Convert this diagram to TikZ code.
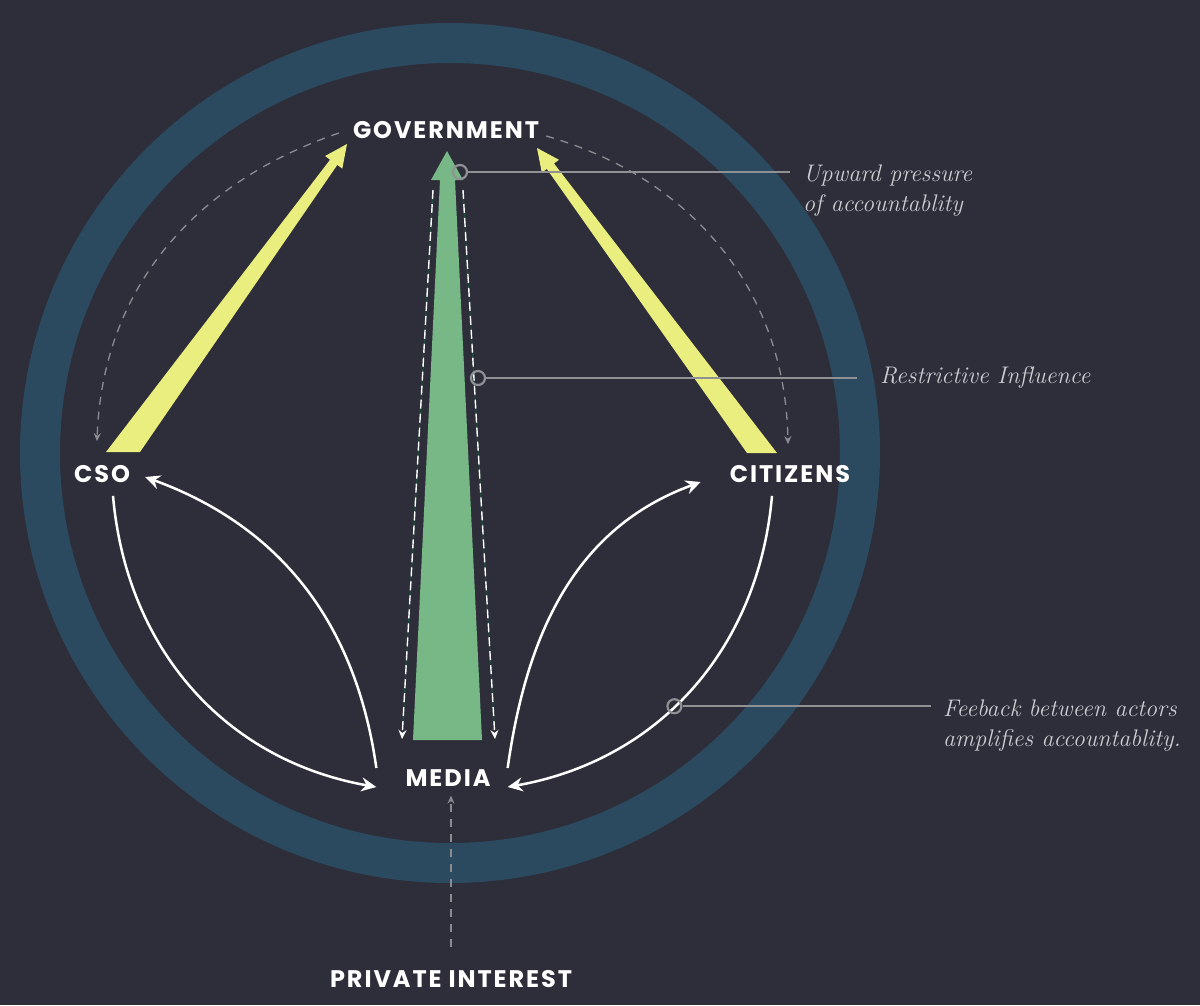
\documentclass[tikz,border=0pt]{standalone}
\usepackage{fontspec}
\usetikzlibrary{arrows.meta,calc}
\newfontfamily\lblfont{Poppins}[LetterSpace=8]
\definecolor{bgc}{HTML}{2D2E39}
\definecolor{ringc}{HTML}{2B4A5F}
\definecolor{yel}{HTML}{EAEE7E}
\definecolor{grn}{HTML}{78B886}
\definecolor{dgrn}{HTML}{1F4A3C}
\definecolor{dashg}{HTML}{8B8C92}
\definecolor{leadg}{HTML}{909195}
\definecolor{notec}{HTML}{CDCED2}
\begin{document}
\begin{tikzpicture}[x=1pt,y=1pt,
  lbl/.style={font=\lblfont\bfseries\fontsize{24}{28}\selectfont, text=white, inner sep=0pt},
  note/.style={font=\itshape\fontsize{24}{30}\selectfont, text=notec, inner sep=0pt, align=left},
  feed/.style={draw=white, line width=2.5pt, -{Stealth[length=15pt,width=14pt,inset=5pt]}},
  guide/.style={draw=dashg, line width=1.3pt, dash pattern=on 8pt off 7pt, -{Stealth[length=8pt,width=7pt]}},
  gdash/.style={draw=white, line width=1.4pt, dash pattern=on 9pt off 5pt, -{Stealth[length=9pt,width=8pt]}},
  gline/.style={draw=dgrn, line width=1.2pt},
  lead/.style={draw=leadg, line width=2.2pt},
  leaddot/.style={circle, draw=leadg, line width=2.2pt, minimum size=14pt, inner sep=0pt}
]
\fill[bgc] (0,0) rectangle (1200,-1005);
\useasboundingbox (0,0) rectangle (1200,-1005);
% ring
\draw[ringc, line width=40pt] (450,-453) circle[radius=410];
% labels
\node[lbl] (gov) at (446,-130) {GOVERNMENT};
\node[lbl] (cso) at (102,-474) {CSO};
\node[lbl] (cit) at (790,-474) {CITIZENS};
\node[lbl] (media) at (448,-778) {MEDIA};
\node[lbl] (priv) at (451,-979) {PRIVATE INTEREST};
% yellow arrows
\fill[yel] (106,-452) -- (330.1,-159.7) -- (325.1,-156.0) -- (347,-144) -- (342.3,-168.6) -- (337.3,-164.9) -- (140,-452) -- cycle;
\fill[yel] (747,-453) -- (546.8,-168.9) -- (541.8,-172.6) -- (537,-148) -- (559.0,-159.8) -- (554.0,-163.5) -- (777,-453) -- cycle;
% green arrow
\fill[grn] (413,-740) -- (440,-180) -- (431,-180) -- (447,-151) -- (463,-180) -- (455,-180) -- (482,-740) -- cycle;
% restrictive dashed lines
\coordinate (gl1) at (433,-190); \coordinate (gl2) at (402,-739);
\coordinate (gr1) at (463,-190); \coordinate (gr2) at (495,-739);
\draw[gline] (gl1) -- ($(gl1)!0.98!(gl2)$);
\draw[gline] (gr1) -- ($(gr1)!0.98!(gr2)$);
\draw[gdash] (gl1) -- (gl2);
\draw[gdash] (gr1) -- (gr2);
% dashed guides
\draw[guide] ([xshift=-14pt,yshift=-3pt]gov.west) to[out=199,in=88] ([xshift=-5pt,yshift=24pt]cso.north);
\draw[guide] ([xshift=7pt,yshift=-6pt]gov.east) to[out=-16,in=91] ([xshift=-2pt,yshift=21pt]cit.north);
\draw[guide] ([yshift=23pt]priv.north) -- ([yshift=-9pt]priv.north |- media.south);
% feedback arcs
\draw[feed] ([xshift=11pt,yshift=-13pt]cso.south) to[out=-85,in=170] ([xshift=-29pt,yshift=-9pt]media.west);
\draw[feed] ([xshift=-29pt,yshift=10pt]media.west) to[out=98,in=-20] ([xshift=15pt,yshift=-3pt]cso.east);
\draw[feed] ([xshift=17pt,yshift=10pt]media.east) to[out=82,in=200] ([xshift=-29pt,yshift=-8pt]cit.west);
\draw[feed] ([xshift=-18pt,yshift=-13pt]cit.south) to[out=-95,in=10] coordinate[pos=0.56] (fbp) ([xshift=17pt,yshift=-9pt]media.east);
% annotations
\node[note, anchor=base west] (nup) at (803,-211) {Upward pressure\\of accountablity};
\node[note, anchor=base west] (nrest) at (880,-383) {Restrictive Influence};
\node[note, anchor=base west] (nfeed) at (943,-746) {Feeback between actors\\amplifies accountablity.};
\node[leaddot] (cup) at (460,-172) {};
\node[leaddot] (crest) at (478,-378) {};
\node[leaddot] (cfb) at (fbp) {};
\draw[lead] (cup.east) -- ([xshift=-13pt]nup.west |- cup.east);
\draw[lead] (crest.east) -- ([xshift=-23pt]nrest.west |- crest.east);
\draw[lead] (cfb.east) -- ([xshift=-12pt]nfeed.west |- cfb.east);
\end{tikzpicture}
\end{document}
